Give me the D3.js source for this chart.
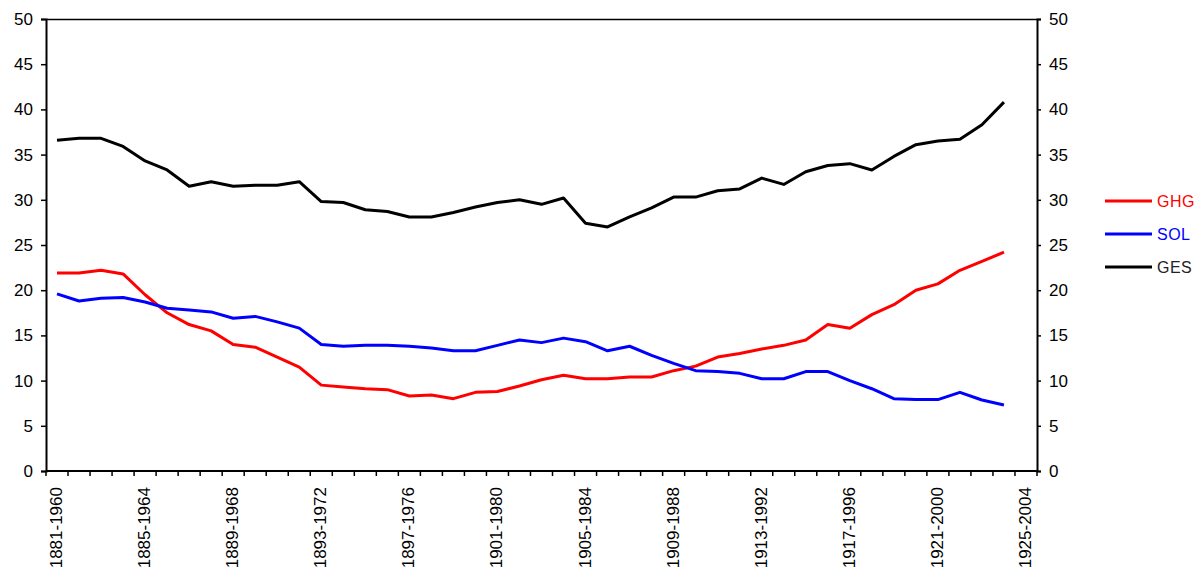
<!DOCTYPE html>
<html>
<head>
<meta charset="utf-8">
<script src="https://cdn.jsdelivr.net/npm/d3@7"></script>
<style>
  body { margin: 0; background: #fff; }
  svg { display: block; }
  text { font-family: "Liberation Sans", Arial, sans-serif; }
</style>
</head>
<body>
<svg id="chart" width="1202" height="571"></svg>
<script>
const categories = [];
for (let y = 1881; y <= 1925; y++) categories.push(y + "-" + (y + 79));

const tickLabels = ["1881-1960","1885-1964","1889-1968","1893-1972","1897-1976","1901-1980",
  "1905-1984","1909-1988","1913-1992","1917-1996","1921-2000","1925-2004"];

const ghg = [21.9,21.9,22.2,21.8,19.5,17.5,16.2,15.5,14.0,13.7,12.6,11.5,9.5,9.3,9.1,
  9.0,8.3,8.4,8.0,8.7,8.8,9.4,10.1,10.6,10.2,10.2,10.4,10.4,11.1,11.6,
  12.6,13.0,13.5,13.9,14.5,16.2,15.8,17.3,18.4,20.0,20.7,22.2,23.2,24.2];
const sol = [19.6,18.8,19.1,19.2,18.7,18.0,17.8,17.6,16.9,17.1,16.5,15.8,14.0,13.8,13.9,
  13.9,13.8,13.6,13.3,13.3,13.9,14.5,14.2,14.7,14.3,13.3,13.8,12.8,11.9,11.1,
  11.0,10.8,10.2,10.2,11.0,11.0,10.0,9.1,8.0,7.9,7.9,8.7,7.85,7.3];
const ges = [36.6,36.8,36.8,35.9,34.3,33.3,31.5,32.0,31.5,31.6,31.6,32.0,29.8,29.7,28.9,
  28.7,28.1,28.1,28.6,29.2,29.7,30.0,29.5,30.2,27.4,27.0,28.1,29.1,30.3,30.3,
  31.0,31.2,32.4,31.7,33.1,33.8,34.0,33.3,34.8,36.1,36.5,36.7,38.3,40.8];

const seriesNames = ["GHG","SOL","GES"];
const seriesColors = ["#ff0000","#0000ff","#000000"];
const seriesData = [ghg, sol, ges];
const yTicks = [0,5,10,15,20,25,30,35,40,45,50];

const svg = d3.select("#chart");
const L = 46, R = 1037, T = 19, B = 471;

const x = d3.scaleBand().domain(categories).range([L, R]).paddingInner(0).paddingOuter(0);
const y = d3.scaleLinear().domain([0, 50]).range([B, T]);

// plot border top
svg.append("line").attr("x1", L).attr("x2", R).attr("y1", T + 0.5).attr("y2", T + 0.5)
  .attr("stroke", "#000").attr("stroke-width", 1.5);

// left axis
const yl = svg.append("g").attr("transform", `translate(${L},0)`)
  .call(d3.axisLeft(y).tickValues(yTicks).tickSize(5).tickPadding(8));
// right axis
const yr = svg.append("g").attr("transform", `translate(${R},0)`)
  .call(d3.axisRight(y).tickValues(yTicks).tickSize(4).tickPadding(8));
[yl, yr].forEach(g => {
  g.select(".domain").attr("stroke", "#000").attr("stroke-width", 2);
  g.selectAll(".tick line").attr("stroke", "#000").attr("stroke-width", 1.5);
  g.selectAll(".tick text").attr("font-size", 17).attr("fill", "#000")
    .attr("font-family", "'Liberation Sans', Arial, sans-serif");
});

// bottom axis: ticks at category boundaries
const boundaries = categories.map(c => x(c)).concat([R]);
const xb = svg.append("g");
xb.append("line").attr("x1", L).attr("x2", R).attr("y1", B).attr("y2", B)
  .attr("stroke", "#000").attr("stroke-width", 2);
xb.selectAll("line.tk").data(boundaries).join("line").attr("class", "tk")
  .attr("x1", d => d).attr("x2", d => d).attr("y1", B).attr("y2", B + 5)
  .attr("stroke", "#000").attr("stroke-width", 1.5);
xb.selectAll("text").data(tickLabels).join("text")
  .attr("transform", d => `translate(${x(d) + x.bandwidth() / 2 + 5},${B + 16}) rotate(-90)`)
  .attr("text-anchor", "end")
  .attr("font-size", 17)
  .text(d => d);

// lines
const line = d3.line()
  .x((d, i) => x(categories[i]) + x.bandwidth() / 2)
  .y(d => y(d));
seriesData.forEach((s, k) => {
  svg.append("path").datum(s)
    .attr("fill", "none").attr("stroke", seriesColors[k]).attr("stroke-width", 3)
    .attr("stroke-linejoin", "round")
    .attr("d", line);
});

// legend
const legY = [201, 234, 267];
const leg = svg.append("g");
seriesNames.forEach((n, k) => {
  leg.append("line").attr("x1", 1105).attr("x2", 1152).attr("y1", legY[k]).attr("y2", legY[k])
    .attr("stroke", seriesColors[k]).attr("stroke-width", 3);
  leg.append("text").attr("x", 1157).attr("y", legY[k] + 6)
    .attr("font-size", 16).attr("letter-spacing", 0.5)
    .attr("fill", k === 2 ? "#222" : seriesColors[k]).text(n);
});
</script>
</body>
</html>
